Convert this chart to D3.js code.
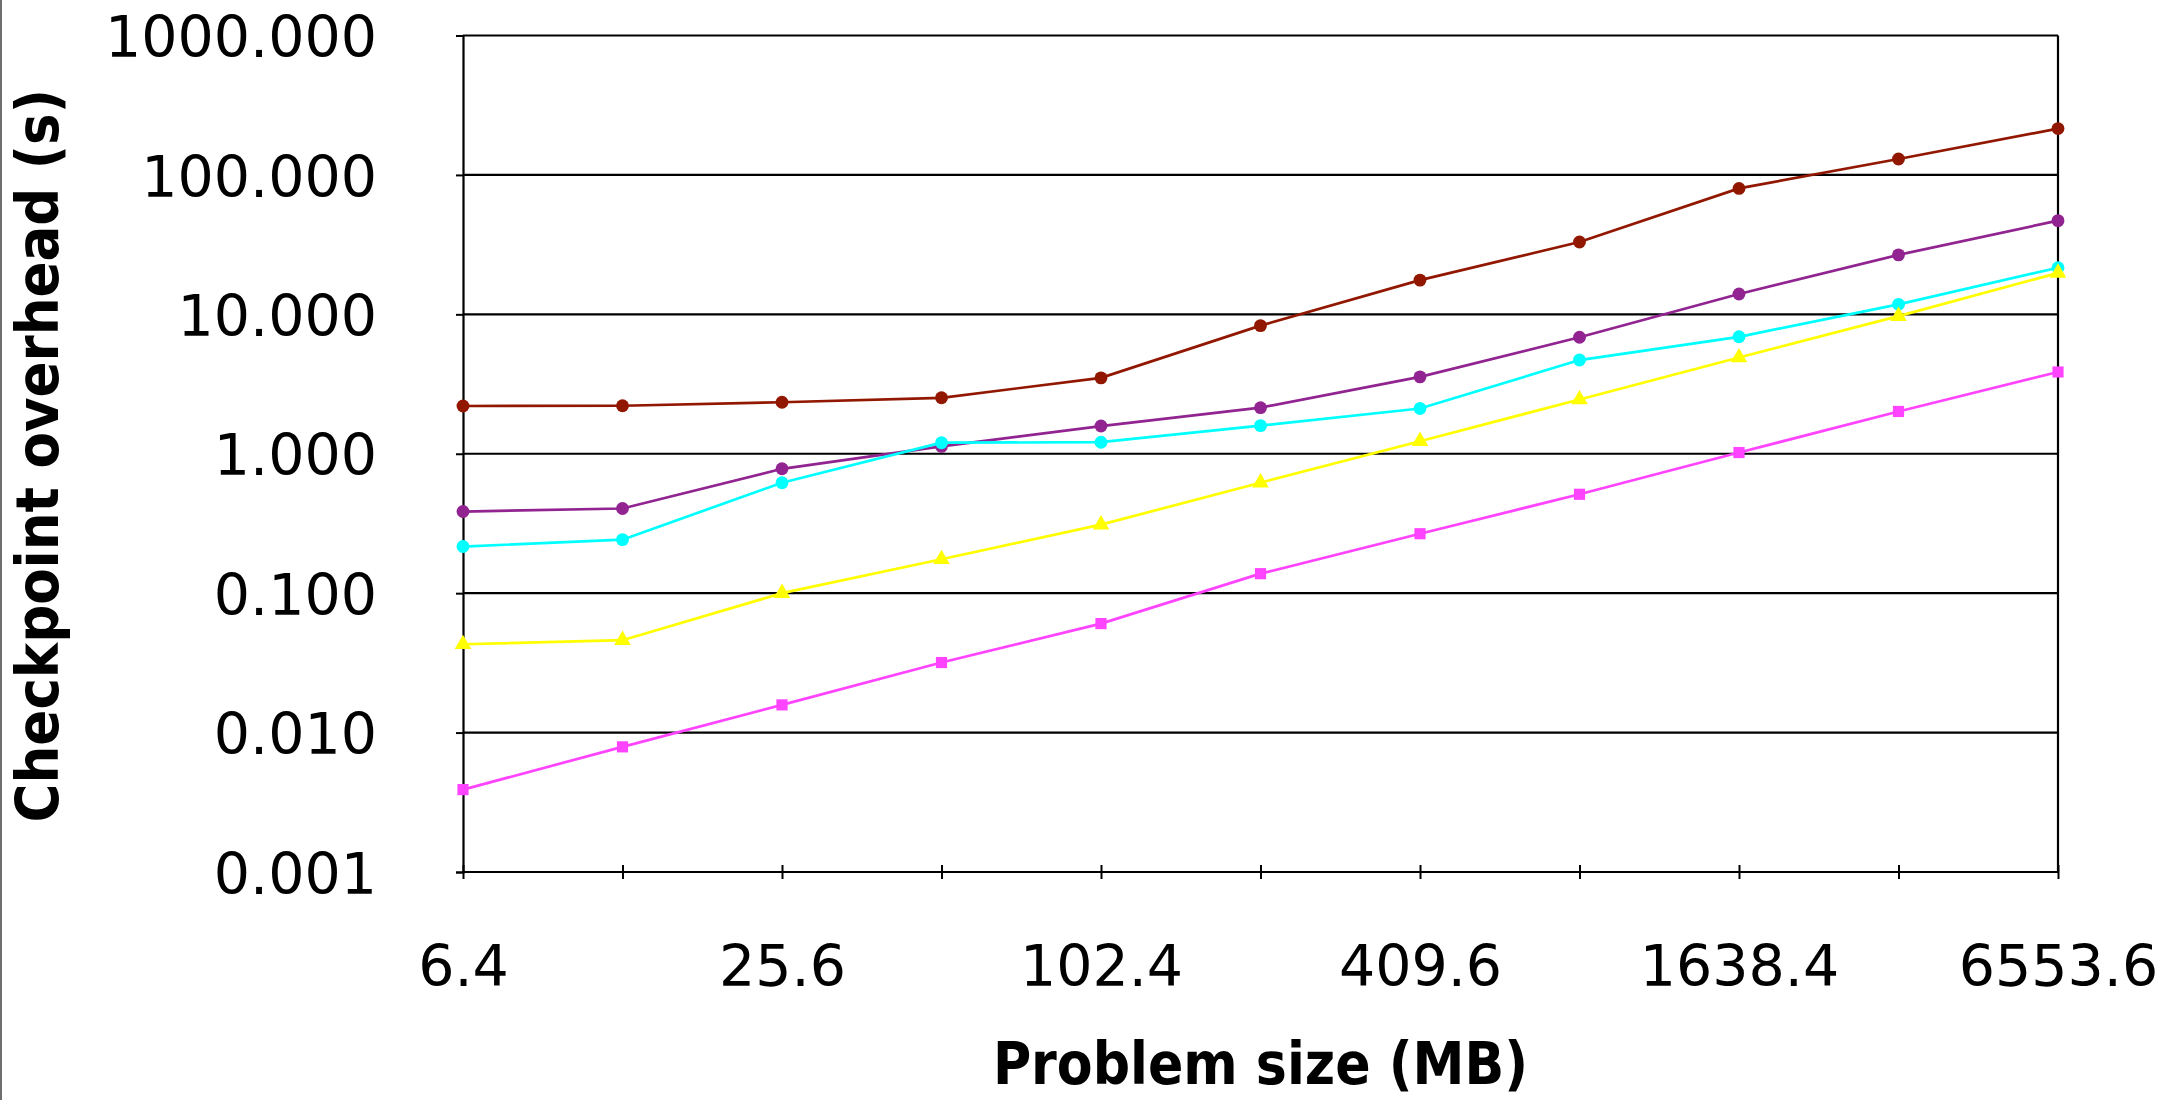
<!DOCTYPE html>
<html>
<head>
<meta charset="utf-8">
<script src="https://cdn.jsdelivr.net/npm/d3@7/dist/d3.min.js"></script>
<style>
  html, body { margin: 0; padding: 0; background: #ffffff; }
  svg { display: block; }
</style>
</head>
<body>
<svg id="chart" width="2166" height="1100"></svg>
<script>
// ---- data ----
const sizes = [6.4, 12.8, 25.6, 51.2, 102.4, 204.8, 409.6, 819.2, 1638.4, 3276.8, 6553.6];
const xTickLabels = ["6.4", "25.6", "102.4", "409.6", "1638.4", "6553.6"];
const yTicks = [0.001, 0.01, 0.1, 1, 10, 100, 1000];

const seriesDarkRed = [2.20, 2.21, 2.34, 2.52, 3.50, 8.3, 17.6, 33.0, 80, 130, 215];
const seriesPurple  = [0.385, 0.405, 0.78, 1.13, 1.58, 2.14, 3.56, 6.85, 14.0, 26.7, 47];
const seriesCyan    = [0.216, 0.242, 0.62, 1.20, 1.21, 1.59, 2.11, 4.7, 6.9, 11.8, 21.6];
const seriesYellow  = [0.043, 0.046, 0.10, 0.175, 0.31, 0.62, 1.23, 2.45, 4.9, 9.7, 19.8];
const seriesMagenta = [0.0039, 0.0079, 0.0158, 0.0318, 0.0605, 0.138, 0.267, 0.512, 1.02, 2.01, 3.86];

const series = [
  { name: "A", values: seriesDarkRed, color: "#921700", marker: "circle" },
  { name: "B", values: seriesPurple,  color: "#912491", marker: "circle" },
  { name: "C", values: seriesCyan,    color: "#00ffff", marker: "circle" },
  { name: "D", values: seriesYellow,  color: "#ffff00", marker: "triangle" },
  { name: "E", values: seriesMagenta, color: "#ff44ff", marker: "square" }
];

// ---- layout ----
const W = 2166, H = 1100;
const plotLeft = 463, plotRight = 2058, plotTop = 35.5, plotBottom = 872;

const svg = d3.select("#chart");

// left border of the image
svg.append("rect").attr("x", 0).attr("y", 0).attr("width", 2).attr("height", H).attr("fill", "#6e6e6e");

const x = d3.scaleLog().base(2).domain([sizes[0], sizes[sizes.length - 1]]).range([plotLeft, plotRight]);
const y = d3.scaleLog().domain([0.001, 1000]).range([plotBottom, plotTop]);

const tickFont = "'DejaVu Sans', 'Liberation Sans', sans-serif";
const titleFont = "'DejaVu Sans Condensed', 'DejaVu Sans', sans-serif";

// gridlines
svg.append("g").selectAll("line").data(yTicks).join("line")
  .attr("x1", plotLeft).attr("x2", plotRight)
  .attr("y1", d => y(d)).attr("y2", d => y(d))
  .attr("stroke", "#000").attr("stroke-width", 2.2);

// right border
svg.append("line").attr("x1", plotRight).attr("x2", plotRight).attr("y1", plotTop).attr("y2", plotBottom)
  .attr("stroke", "#000").attr("stroke-width", 2.2);

// y axis
const yAxis = d3.axisLeft(y).tickValues(yTicks).tickSize(7).tickPadding(79)
  .tickFormat(d3.format(".3f"));
const gy = svg.append("g").attr("transform", `translate(${plotLeft},0)`).call(yAxis);
gy.select(".domain").attr("stroke", "#000").attr("stroke-width", 2.2);
gy.selectAll(".tick line").attr("stroke", "#000").attr("stroke-width", 2);
gy.selectAll(".tick text")
  .attr("font-family", tickFont).attr("font-size", 57).attr("fill", "#000")
  .attr("dy", "0.37em");

// x axis (ticks cross the axis line)
const labelSet = new Set(xTickLabels);
const xAxis = d3.axisBottom(x).tickValues(sizes).tickSize(14).tickPadding(0)
  .tickFormat(d => labelSet.has(String(d)) ? String(d) : "");
const gx = svg.append("g").attr("transform", `translate(0,${plotBottom - 7})`).call(xAxis);
gx.select(".domain").remove();
gx.selectAll(".tick line").attr("stroke", "#000").attr("stroke-width", 2);
gx.selectAll(".tick text")
  .attr("font-family", tickFont).attr("font-size", 57).attr("fill", "#000")
  .attr("y", 986 - (plotBottom - 7)).attr("dy", null);
svg.append("line").attr("x1", plotLeft).attr("x2", plotRight).attr("y1", plotBottom).attr("y2", plotBottom)
  .attr("stroke", "#000").attr("stroke-width", 2.2);

// series lines and markers
const line = d3.line().x((d, i) => x(sizes[i])).y(d => y(d));
const gSeries = svg.append("g");
series.forEach(s => {
  gSeries.append("path").datum(s.values)
    .attr("d", line).attr("fill", "none")
    .attr("stroke", s.color).attr("stroke-width", 2.7);
  const symType = s.marker === "circle" ? d3.symbolCircle
                : s.marker === "square" ? d3.symbolSquare : d3.symbolTriangle;
  const symSize = s.marker === "circle" ? 130 : s.marker === "square" ? 125 : 120;
  gSeries.append("g").selectAll("path").data(s.values).join("path")
    .attr("transform", (d, i) => `translate(${x(sizes[i])},${y(d)})`)
    .attr("d", d3.symbol().type(symType).size(symSize))
    .attr("fill", s.color);
});

// axis titles
svg.append("text")
  .attr("x", (plotLeft + plotRight) / 2).attr("y", 1084)
  .attr("text-anchor", "middle")
  .attr("font-family", titleFont).attr("font-weight", "bold").attr("font-size", 58)
  .attr("fill", "#000")
  .text("Problem size (MB)");

svg.append("text")
  .attr("transform", `translate(58,${(plotTop + plotBottom) / 2 + 2}) rotate(-90)`)
  .attr("text-anchor", "middle")
  .attr("font-family", titleFont).attr("font-weight", "bold").attr("font-size", 59)
  .attr("fill", "#000")
  .text("Checkpoint overhead (s)");
</script>
</body>
</html>
